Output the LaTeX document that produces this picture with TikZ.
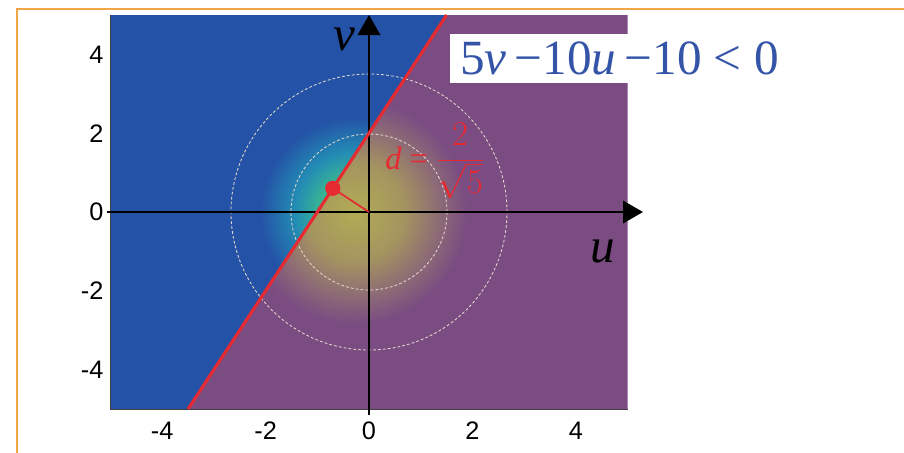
\documentclass[tikz,border=0pt]{standalone}
\usepackage{fontspec}
\setmainfont{Liberation Serif}
\newfontfamily\ticksfont{Liberation Sans}
\usetikzlibrary{arrows.meta,calc}

\definecolor{planeblue}{HTML}{2452A6}
\definecolor{planepurple}{HTML}{7A4C82}
\definecolor{frameorange}{HTML}{F0A546}
\definecolor{eqblue}{HTML}{3454A8}
\definecolor{linered}{HTML}{E62A32}
\definecolor{ringgrey}{HTML}{E2D8CC}
\definecolor{glowyellow}{RGB}{200,215,70}
\definecolor{glowgreen}{RGB}{60,190,140}
\definecolor{glowteal}{RGB}{35,140,180}
\definecolor{glowolive}{RGB}{178,172,84}
\definecolor{glowkhaki}{RGB}{164,148,96}
\definecolor{glowmauve}{RGB}{140,106,118}

\pgfdeclareradialshading{glowleft}{\pgfpointorigin}{color(0bp)=(glowyellow); color(7bp)=(glowgreen); color(14bp)=(glowteal); color(22bp)=(planeblue); color(50bp)=(planeblue)}
\pgfdeclareradialshading{glowright}{\pgfpointorigin}{color(0bp)=(glowolive); color(11bp)=(glowkhaki); color(19bp)=(glowmauve); color(25bp)=(planepurple); color(50bp)=(planepurple)}

\begin{document}
\begin{tikzpicture}[x=1.2925cm,y=0.985cm,
  axis/.style={line width=1.8pt,-{Triangle[length=0.5cm,width=0.56cm]}},
  ring/.style={draw=ringgrey,line width=0.6pt,dash pattern=on 2pt off 1.5pt},
  ticklabel/.style={font=\ticksfont\fontsize{18}{18}\selectfont,inner sep=0pt},
  biglabel/.style={font=\itshape\fontsize{35}{35}\selectfont,inner sep=0pt}]
\useasboundingbox (-7.137,-6.091) rectangle (10.348,5.381);

% Define the points.
\coordinate (O) at (0,0);
\coordinate (A) at (-3.5,-5);
\coordinate (B) at (1.5,5);
\coordinate (G) at (-0.27,0);
\coordinate (H) at ($(A)!(O)!(B)$);

% frame of the slide
\draw[frameorange,line width=1.8pt] (-6.809,-6.2) -- (-6.809,5.152) -- (10.5,5.152);

% the two half planes, with the glow
\fill[planeblue] (-5,-5) -- (A) -- (B) -- (-5,5) -- cycle;
\fill[planepurple] (A) -- (5,-5) -- (5,5) -- (B) -- cycle;
\begin{scope}
  \clip (-5,-5) -- (A) -- (B) -- (-5,5) -- cycle;
  \shade[shading=glowleft] (G) circle[radius=2.7cm];
\end{scope}
\begin{scope}
  \clip (A) -- (5,-5) -- (5,5) -- (B) -- cycle;
  \shade[shading=glowright] (G) circle[radius=2.8cm];
\end{scope}

\draw[ring] (O) circle[radius=1.95cm];
\draw[ring] (O) circle[radius=3.45cm];
\draw[black!75,line width=0.6pt] (-5,5) -- (-5,-5) -- (5,-5);

% axes
\draw[axis] (-5.07,0) -- (5.3,0);
\draw[axis] (0,-5.15) -- (0,5);

% the line and the distance
\draw[linered,line width=2.2pt] (A) -- (B);
\draw[linered,line width=1.2pt] (H) -- (O);
\fill[linered] (H) circle[radius=0.19cm];

\foreach \k in {-4,-2,0,2,4} {
  \node[ticklabel,anchor=north] (xl\k) at (\k,-5.33) {\k};
  \node[ticklabel,anchor=east] (yl\k) at (-5.13,\k) {\k};
}

\node[biglabel] (vlab) at (-0.48,4.39) {v};
\node[biglabel] (ulab) at (4.53,-0.99) {u};
\node[anchor=west,fill=white,text=eqblue,inner xsep=0.25cm,minimum height=1.225cm,
  font=\fontsize{35}{35}\selectfont] (ineq) at (1.567,3.9)
  {5\textit{v}\,−10\textit{u}\,−10 < 0};
\node[anchor=base west,text=linered,inner sep=0pt,font=\fontsize{23}{23}\selectfont]
  (dist) at (0.31,1.09)
  {\textit{d} = {\fontsize{28}{28}\selectfont$\displaystyle\frac{2}{\sqrt{5}}$}};

\end{tikzpicture}
\end{document}
